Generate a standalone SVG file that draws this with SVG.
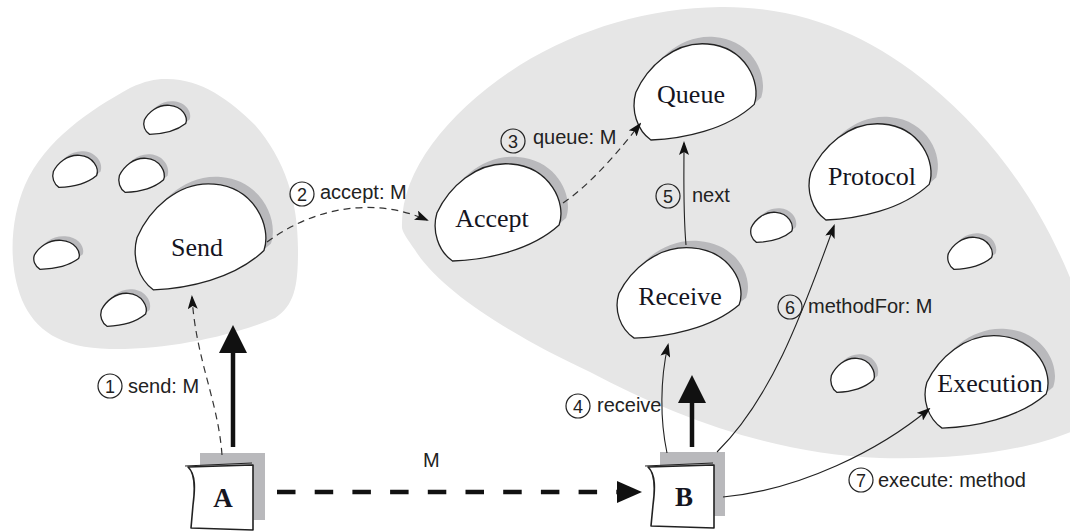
<svg xmlns="http://www.w3.org/2000/svg" width="1070" height="532" viewBox="0 0 1070 532">
  <style>
    .region{fill:#e6e6e6}
    .shade{fill:#b9b9bc}
    .cell{fill:#fff;stroke:#222;stroke-width:1.3}
    .name{font-family:"Liberation Serif",serif;font-size:26px;fill:#15151f;text-anchor:middle}
    .obj{font-family:"Liberation Serif",serif;font-size:27px;font-weight:bold;fill:#15151f;text-anchor:middle}
    .lbl{font-family:"Liberation Sans",sans-serif;font-size:20px;fill:#222}
    .num{font-family:"Liberation Sans",sans-serif;font-size:18px;fill:#222;text-anchor:middle}
    .ring{fill:none;stroke:#222;stroke-width:1.2}
    .thin{fill:none;stroke:#222;stroke-width:1.1}
    .dash{fill:none;stroke:#333;stroke-width:1.2;stroke-dasharray:7 5}
    .thick{fill:none;stroke:#111;stroke-width:4.5}
    .thickdash{fill:none;stroke:#111;stroke-width:4.5;stroke-dasharray:18.5 19.2}
    .box{fill:#fff;stroke:#222;stroke-width:1.6;stroke-linejoin:round}
  </style>
  <defs>
    <!-- irregular "object" outline in a 100x100 box, scaled per use -->
    <path id="blob" vector-effect="non-scaling-stroke" d="M15,98 C40,97 75,88 97,62 C103,40 90,4 60,1 C33,-2 12,25 3,50 C-1,68 4,88 15,98 Z"/>
    <marker id="tip" markerUnits="userSpaceOnUse" viewBox="0 0 14 10" markerWidth="14" markerHeight="10" refX="12" refY="5" orient="auto">
      <path d="M0,0 L14,5 L0,10 L3,5 Z" fill="#111"/>
    </marker>
    <marker id="head" markerUnits="userSpaceOnUse" viewBox="0 0 28 28" markerWidth="28" markerHeight="28" refX="8" refY="14" orient="auto">
      <path d="M0,0 L28,14 L0,28 Z" fill="#111"/>
    </marker>
    <marker id="dhead" markerUnits="userSpaceOnUse" viewBox="0 0 25 22" markerWidth="25" markerHeight="22" refX="8" refY="11" orient="auto">
      <path d="M0,0 L25,11 L0,22 Z" fill="#111"/>
    </marker>
  </defs>

  <!-- grey regions (object spaces) -->
  <g id="regions">
    <path class="region" d="M165,79 C200,78 230,100 255,125 C285,160 298,200 298,250 C298,285 295,305 275,318 C235,335 170,350 110,349 C60,348 35,330 22,300 C8,265 10,220 25,185 C45,140 90,110 130,88 C145,81 155,79 165,79 Z"/>
    <path class="region" d="M402,228 C400,170 450,110 520,65 C580,28 650,8 720,7 C800,6 870,35 930,85 C990,135 1040,200 1075,290 L1075,430 C1030,450 960,460 880,458 C780,455 680,420 590,372 C510,335 440,290 415,250 C408,240 403,233 402,228 Z"/>
  </g>

  <!-- unnamed objects -->
  <g id="obj-1"><use href="#blob" class="shade" transform="translate(147 101) scale(0.44 0.30)"/><use href="#blob" class="cell" transform="translate(143 105) scale(0.44 0.30)"/></g>
  <g id="obj-2"><use href="#blob" class="shade" transform="translate(56 151) scale(0.46 0.33)"/><use href="#blob" class="cell" transform="translate(52 155) scale(0.46 0.33)"/></g>
  <g id="obj-3"><use href="#blob" class="shade" transform="translate(122 154) scale(0.47 0.35)"/><use href="#blob" class="cell" transform="translate(118 158) scale(0.47 0.35)"/></g>
  <g id="obj-4"><use href="#blob" class="shade" transform="translate(37 236) scale(0.47 0.30)"/><use href="#blob" class="cell" transform="translate(33 240) scale(0.47 0.30)"/></g>
  <g id="obj-5"><use href="#blob" class="shade" transform="translate(104 289) scale(0.47 0.34)"/><use href="#blob" class="cell" transform="translate(100 293) scale(0.47 0.34)"/></g>
  <g id="obj-6"><use href="#blob" class="shade" transform="translate(754 208) scale(0.43 0.31)"/><use href="#blob" class="cell" transform="translate(750 212) scale(0.43 0.31)"/></g>
  <g id="obj-7"><use href="#blob" class="shade" transform="translate(951 233) scale(0.46 0.33)"/><use href="#blob" class="cell" transform="translate(947 237) scale(0.46 0.33)"/></g>
  <g id="obj-8"><use href="#blob" class="shade" transform="translate(834 354) scale(0.45 0.35)"/><use href="#blob" class="cell" transform="translate(830 358) scale(0.45 0.35)"/></g>

  <!-- named objects -->
  <g id="node-send">
    <use href="#blob" class="shade" transform="translate(140 176) scale(1.35 1.09)"/>
    <use href="#blob" class="cell" transform="translate(133 183) scale(1.35 1.09)"/>
    <text class="name" x="197" y="256">Send</text>
  </g>
  <g id="node-accept">
    <use href="#blob" class="shade" transform="translate(440 156) scale(1.30 1.00)"/>
    <use href="#blob" class="cell" transform="translate(433 163) scale(1.30 1.00)"/>
    <text class="name" x="492" y="227">Accept</text>
  </g>
  <g id="node-queue">
    <use href="#blob" class="shade" transform="translate(639 36) scale(1.26 0.99)"/>
    <use href="#blob" class="cell" transform="translate(632 43) scale(1.26 0.99)"/>
    <text class="name" x="691" y="103">Queue</text>
  </g>
  <g id="node-protocol">
    <use href="#blob" class="shade" transform="translate(814 116) scale(1.26 0.99)"/>
    <use href="#blob" class="cell" transform="translate(807 123) scale(1.26 0.99)"/>
    <text class="name" x="872" y="185">Protocol</text>
  </g>
  <g id="node-receive">
    <use href="#blob" class="shade" transform="translate(622 240) scale(1.28 0.93)"/>
    <use href="#blob" class="cell" transform="translate(615 247) scale(1.28 0.93)"/>
    <text class="name" x="680" y="305">Receive</text>
  </g>
  <g id="node-execution">
    <use href="#blob" class="shade" transform="translate(930 328) scale(1.27 0.95)"/>
    <use href="#blob" class="cell" transform="translate(923 335) scale(1.27 0.95)"/>
    <text class="name" x="990" y="392">Execution</text>
  </g>

  <g id="node-a">
    <rect class="shade" x="200" y="453" width="65" height="67"/>
    <path class="box" d="M188,467 L253,465 L253,530 L191,528 L193,505 C195,490 196,474 188,467 Z"/>
    <path class="thin" d="M185,466 L252,463"/>
    <text class="obj" x="223" y="507">A</text>
  </g>
  <g id="node-b">
    <rect class="shade" x="660" y="452" width="65" height="64"/>
    <path class="box" d="M648,467 L714,465 L714,528 L651,526 L653,505 C655,490 656,474 648,467 Z"/>
    <path class="thin" d="M645,466 L713,463"/>
    <text class="obj" x="684" y="506">B</text>
  </g>

  <!-- connectors and their labels -->
  <g id="connectors">
    <path class="thick" d="M233,447 L233,345" marker-end="url(#head)"/>
    <path class="thick" d="M692,447 L692,395" marker-end="url(#head)"/>
    <path class="thickdash" d="M277,492 L625,492" marker-end="url(#dhead)"/>
    <text class="lbl" x="423" y="467">M</text>

    <path class="dash" d="M222,455 C218,400 196,360 192,297" marker-end="url(#tip)"/>
    <circle class="ring" cx="110" cy="386" r="12"/><text class="num" x="110" y="392.5">1</text>
    <text class="lbl" x="128" y="393">send: M</text>

    <path class="dash" d="M267,242 C310,210 370,195 427,220" marker-end="url(#tip)"/>
    <circle class="ring" cx="302" cy="194" r="12"/><text class="num" x="302" y="200.5">2</text>
    <text class="lbl" x="320" y="199">accept: M</text>

    <path class="dash" d="M563,203 C590,185 620,150 640,124" marker-end="url(#tip)"/>
    <circle class="ring" cx="513" cy="141" r="12"/><text class="num" x="513" y="147.5">3</text>
    <text class="lbl" x="533" y="144">queue: M</text>

    <path class="thin" d="M667,453 C660,420 660,380 668,345" marker-end="url(#tip)"/>
    <circle class="ring" cx="578" cy="406" r="12"/><text class="num" x="578" y="412.5">4</text>
    <text class="lbl" x="597" y="412">receive</text>

    <path class="thin" d="M686,245 C683,210 684,180 684,143" marker-end="url(#tip)"/>
    <circle class="ring" cx="668" cy="196" r="12"/><text class="num" x="668" y="202.5">5</text>
    <text class="lbl" x="692" y="202">next</text>

    <path class="thin" d="M717,452 C770,400 800,320 834,226" marker-end="url(#tip)"/>
    <circle class="ring" cx="790" cy="307" r="12"/><text class="num" x="790" y="313.5">6</text>
    <text class="lbl" x="808" y="313">methodFor: M</text>

    <path class="thin" d="M723,497 C800,490 880,450 929,409" marker-end="url(#tip)"/>
    <circle class="ring" cx="861" cy="480" r="12"/><text class="num" x="861" y="486.5">7</text>
    <text class="lbl" x="878" y="487">execute: method</text>
  </g>
</svg>
